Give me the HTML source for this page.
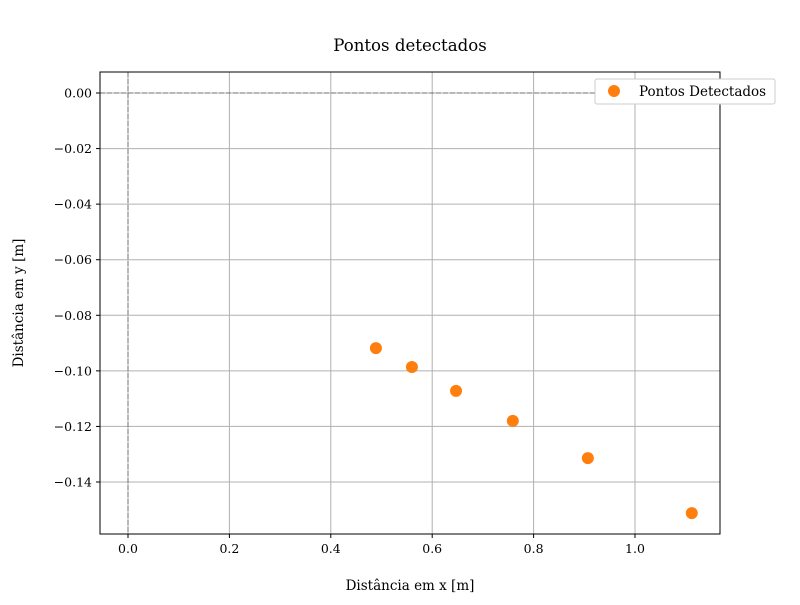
<!DOCTYPE html>
<html><head><meta charset="utf-8"><style>
body{margin:0;background:#fff;}
svg text{font-family:"DejaVu Serif","Liberation Serif",serif;fill:#000;}
</style></head><body>
<svg id="chart" width="800" height="600" xmlns="http://www.w3.org/2000/svg">
<rect width="800" height="600" fill="#fff"/>
<g id="grid"></g>
<g id="marks"></g>
<rect x="100" y="72" width="620" height="462" fill="none" stroke="#000" stroke-width="1"/>
<g id="ticks"></g>
<text x="410" y="51" text-anchor="middle" font-size="16.6">Pontos detectados</text>
<text x="410" y="590" text-anchor="middle" font-size="13.5">Distância em x [m]</text>
<text transform="translate(23,303) rotate(-90)" text-anchor="middle" font-size="13.5">Distância em y [m]</text>
<g>
<rect x="595" y="79" width="180" height="25" rx="2" fill="#fff" stroke="#ccc"/>
<circle cx="614" cy="91" r="6" fill="#ff7f0e"/>
<text x="639" y="96" font-size="13.5">Pontos Detectados</text>
</g>
</svg>
<script>
const xValues=[0.489,0.560,0.647,0.759,0.907,1.112];
const yValues=[-0.0918,-0.0986,-0.1072,-0.118,-0.1314,-0.1512];
const xTicks=[0.0,0.2,0.4,0.6,0.8,1.0];
const yTicks=[0.00,-0.02,-0.04,-0.06,-0.08,-0.10,-0.12,-0.14];
const NS="http://www.w3.org/2000/svg";
function sx(v){return 128+v*507;}
function sy(v){return 93-v*2778.6;}
function mk(tag,attrs,parent){const e=document.createElementNS(NS,tag);for(const k in attrs)e.setAttribute(k,attrs[k]);document.getElementById(parent).appendChild(e);return e;}
xTicks.forEach(t=>{
 const x=sx(t);
 const g=mk('line',{x1:x,x2:x,y1:72,y2:534,stroke:'#b0b0b0','stroke-width':1},'grid');
 
 
 const tk=mk('line',{x1:x,x2:x,y1:534,y2:538,stroke:'#000'},'ticks');
 
 
 const l=mk('text',{x:x,y:553,'text-anchor':'middle','font-size':12.5},'ticks');
 l.textContent=t.toFixed(1);
 
 
});
yTicks.forEach(t=>{
 const y=sy(t);
 const g=mk('line',{x1:100,x2:720,y1:y,y2:y,stroke:'#b0b0b0','stroke-width':1},'grid');
 
 
 const tk=mk('line',{x1:96,x2:100,y1:y,y2:y,stroke:'#000'},'ticks');
 
 
 const l=mk('text',{x:92,y:y+4.5,'text-anchor':'end','font-size':12.5},'ticks');
 l.textContent=(t===0?'0.00':'\u2212'+Math.abs(t).toFixed(2));
 
 
});
const h=mk('line',{x1:100,x2:720,y1:sy(0),y2:sy(0),stroke:'#707070','stroke-dasharray':'5,2'},'grid');


const v=mk('line',{x1:sx(0),x2:sx(0),y1:72,y2:534,stroke:'#707070','stroke-dasharray':'5,2'},'grid');


xValues.forEach((xv,i)=>{
 const c=mk('circle',{cx:sx(xv),cy:sy(yValues[i]),r:6,fill:'#ff7f0e'},'marks');
 
 
});
</script>
</body></html>
